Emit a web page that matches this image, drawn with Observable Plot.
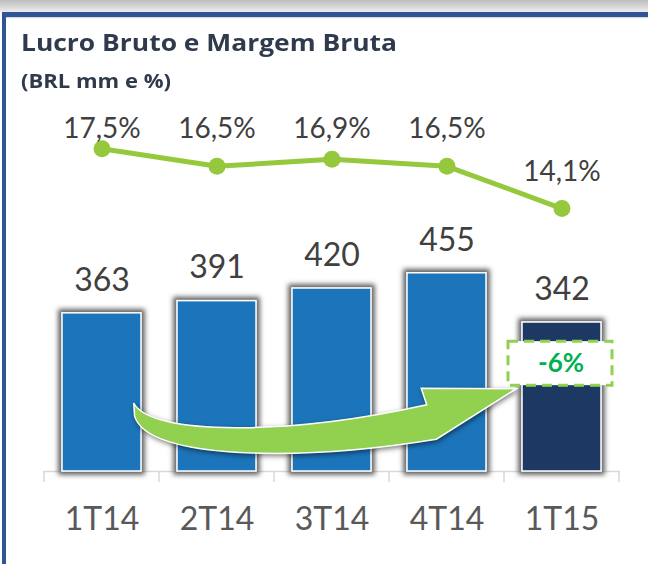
<!DOCTYPE html>
<html>
<head>
<meta charset="utf-8">
<script src="https://cdn.jsdelivr.net/npm/d3@7"></script>
<script src="https://cdn.jsdelivr.net/npm/@observablehq/plot@0.6"></script>
<style>
  html, body { margin: 0; padding: 0; background: #fff; }
  #wrap { position: relative; width: 648px; height: 564px; overflow: hidden; background: #fff; font-family: Lato, sans-serif; }
  #topband { position: absolute; left: 0; top: 0; width: 648px; height: 12px; background: linear-gradient(#bdbdbd, #ededed); }
  #topline { position: absolute; left: 2px; top: 12px; width: 646px; height: 4.5px; background: #2f5597; box-shadow: 0 1px 1px rgba(0,0,0,0.15); }
  #leftline { position: absolute; left: 2px; top: 12px; width: 4px; height: 552px; background: #2f5597; }
  .hdr { position: absolute; left: 21px; font-family: "Open Sans", sans-serif; font-weight: bold; color: #2f3b4d; white-space: nowrap; transform-origin: 0 0; }
  #title { top: 31px; font-size: 23.5px; line-height: 23.5px; }
  #subtitle { top: 71px; font-size: 20px; line-height: 20px; }
  .layer { position: absolute; left: 0; top: 0; }
</style>
</head>
<body>
<svg width="0" height="0" style="position:absolute">
  <defs>
    <filter id="glow" x="-20%" y="-20%" width="140%" height="140%">
      <feMorphology in="SourceAlpha" operator="dilate" radius="2.5" result="d"/>
      <feGaussianBlur in="d" stdDeviation="2.6" result="b"/>
      <feFlood flood-color="#5e5e5e" flood-opacity="1"/>
      <feComposite in2="b" operator="in" result="s"/>
      <feMerge><feMergeNode in="s"/><feMergeNode in="SourceGraphic"/></feMerge>
    </filter>
  </defs>
</svg>
<div id="wrap">
  <div id="topband"></div>
  <div id="topline"></div>
  <div id="leftline"></div>
  <div id="title" class="hdr">Lucro Bruto e Margem Bruta</div>
  <div id="subtitle" class="hdr">(BRL mm e %)</div>
</div>
<script>
// ---- data ----
const quarters = ["1T14", "2T14", "3T14", "4T14", "1T15"];
const grossProfit = [363, 391, 420, 455, 342];      // Lucro Bruto (BRL mm)
const grossMargin = [17.5, 16.5, 16.9, 16.5, 14.1]; // Margem Bruta (%)
const highlightQuarter = "1T15";

// ---- annotation geometry (fraction between first/last bar centres, bar-value units) ----
const arrowUpper = [[0.070, 156], [0.107, 80], [0.410, 82], [0.707, 152]];
const arrowHead = [[0.695, 190], [0.902, 189], [0.728, 73]];
const arrowLower = [[0.432, 22], [0.100, 25], [0.072, 126]];
const changeBox = {y1: 197, y2: 298, y: 248};

// ---- styling ----
const W = 648, H = 564, ML = 43, MR = 28, MB = 93;
const BLUE = "#1b74bb", NAVY = "#1f3864", GREEN_LINE = "#95c83d", GREEN_ARROW = "#92d050", GREEN_TEXT = "#00b050";

const rows = quarters.map((q, i) => ({q, v: grossProfit[i], m: grossMargin[i]}));
const pct = v => v.toFixed(1).replace(".", ",") + "%";
const change = Math.round((grossProfit[grossProfit.length - 1] / grossProfit[0] - 1) * 100);
const changeDatum = [{q: highlightQuarter, label: `${change}%`}];

const xOpts = {type: "band", domain: quarters, paddingInner: 0.315, paddingOuter: 0.1575, align: 0.5, axis: null, label: null};
const baseStyle = {background: "transparent", fontFamily: "Lato, sans-serif", overflow: "visible"};

// ---- bars ----
const p1 = Plot.plot({
  width: W, height: H, marginLeft: ML, marginRight: MR, marginTop: 0, marginBottom: MB,
  style: baseStyle,
  x: xOpts,
  y: {domain: [0, 1081], axis: null},
  marks: [
    Plot.ruleY([0], {stroke: "#d9d9d9", strokeWidth: 1.5}),
    Plot.barY(rows, {x: "q", y: "v", fill: d => d.q === highlightQuarter ? NAVY : BLUE, stroke: "#fff", strokeWidth: 1.5}),
    Plot.text(rows, {x: "q", y: "v", text: d => String(d.v), dy: -22.7, lineAnchor: "bottom", fontSize: 32, fill: "#404040"}),
    Plot.barY(changeDatum, {x: "q", y1: changeBox.y1, y2: changeBox.y2, fill: "#fff", stroke: GREEN_ARROW, strokeWidth: 3, strokeDasharray: "10,6", insetLeft: -14, insetRight: -11}),
    Plot.text(changeDatum, {x: "q", y: changeBox.y, text: "label", fontSize: 26, fontWeight: "bold", fill: GREEN_TEXT, dx: -1}),
    Plot.axisX({tickSize: 0, tickPadding: 36, fontSize: 32, color: "#595959", label: null})
  ]
});
p1.classList.add("layer");

const sx = p1.scale("x"), sy = p1.scale("y");
const ns = "http://www.w3.org/2000/svg";
// glow on the data bars
const barGroups = p1.querySelectorAll('g[aria-label="bar"]');
barGroups[0].setAttribute("filter", "url(#glow)");
// category boundary ticks on the axis
const off = (sx.step - sx.bandwidth) / 2;
const bounds = quarters.map(q => sx.apply(q) - off);
bounds.push(sx.apply(quarters[quarters.length - 1]) + sx.bandwidth + off);
const y0 = sy.apply(0);
d3.select(p1).append("g").selectAll("line").data(bounds).join("line")
  .attr("x1", d => d).attr("x2", d => d).attr("y1", y0).attr("y2", y0 + 11)
  .attr("stroke", "#d9d9d9").attr("stroke-width", 1.5);
// curved arrow from first to last quarter
const ca = sx.apply(quarters[0]) + sx.bandwidth / 2;
const cb = sx.apply(quarters[quarters.length - 1]) + sx.bandwidth / 2;
const P = ([t, v]) => `${(ca + t * (cb - ca)).toFixed(1)},${sy.apply(v).toFixed(1)}`;
const arrowD = `M${P(arrowUpper[0])} C${P(arrowUpper[1])} ${P(arrowUpper[2])} ${P(arrowUpper[3])} ` +
  `L${P(arrowHead[0])} L${P(arrowHead[1])} L${P(arrowHead[2])} ` +
  `C${P(arrowLower[0])} ${P(arrowLower[1])} ${P(arrowLower[2])} Z`;
const arrow = document.createElementNS(ns, "path");
arrow.setAttribute("d", arrowD);
arrow.setAttribute("fill", GREEN_ARROW);
arrow.setAttribute("stroke", "#fff");
arrow.setAttribute("stroke-width", "1.5");
arrow.setAttribute("stroke-linejoin", "miter");
arrow.setAttribute("style", "filter: drop-shadow(1px 2px 2.5px rgba(0,0,0,0.5))");
barGroups[0].after(arrow);

// ---- margin line ----
const topMargin = d3.max(grossMargin.slice(0, -1));
const p2 = Plot.plot({
  width: W, height: H, marginLeft: ML, marginRight: MR, marginTop: 0, marginBottom: MB,
  style: baseStyle,
  x: xOpts,
  y: {domain: [-0.84, 25.92], axis: null},
  marks: [
    Plot.line(rows, {x: "q", y: "m", stroke: GREEN_LINE, strokeWidth: 5}),
    Plot.dot(rows, {x: "q", y: "m", r: 8.5, fill: GREEN_LINE}),
    Plot.text(rows.slice(0, -1), {x: "q", y: () => topMargin, text: d => pct(d.m), dy: -10.3, lineAnchor: "bottom", fontSize: 28, fill: "#404040"}),
    Plot.text(rows.slice(-1), {x: "q", y: "m", text: d => pct(d.m), dy: -28, lineAnchor: "bottom", fontSize: 28, fill: "#404040"})
  ]
});
p2.classList.add("layer");

const wrap = document.getElementById("wrap");
wrap.appendChild(p1);
wrap.appendChild(p2);

// fit header widths to the reference
function fit(id, target) {
  const el = document.getElementById(id);
  const w = el.getBoundingClientRect().width;
  el.style.transform = `scaleX(${target / w})`;
}
fit("title", 376);
fit("subtitle", 150);
</script>
</body>
</html>
